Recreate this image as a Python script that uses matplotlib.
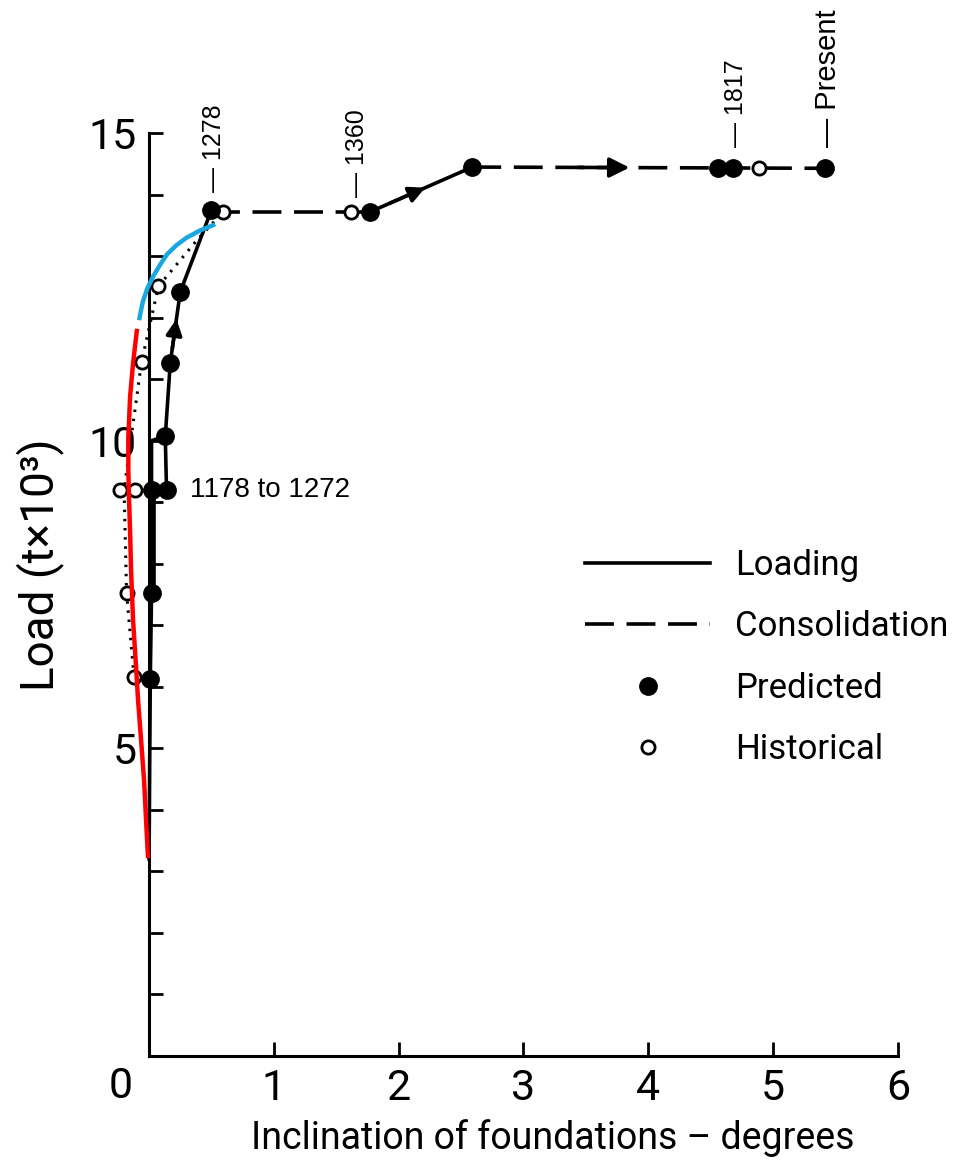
import matplotlib.pyplot as plt
from matplotlib.lines import Line2D

NARROW = ['Roboto', 'DejaVu Sans']
PLAIN = ['Liberation Sans', 'DejaVu Sans']

# predicted points (inclination deg, load 1000 t)
pred_x = [0.01, 0.02, 0.02, 0.14, 0.13, 0.17, 0.25, 0.50, 1.77, 2.59, 4.56, 4.68, 5.42]
pred_y = [6.13, 7.52, 9.2, 9.2, 10.07, 11.26, 12.42, 13.75, 13.72, 14.45, 14.43, 14.43, 14.43]

# historical points
hist_x = [-0.12, -0.18, -0.23, -0.11, -0.06, 0.075, 0.595, 1.62, 4.89]
hist_y = [6.16, 7.52, 9.2, 9.2, 11.28, 12.51, 13.72, 13.72, 14.43]

# loading (solid) paths
load_a_x = [0.0, 0.01, 0.02]
load_a_y = [3.2, 6.13, 7.52]
load_thick_x = [0.02, 0.02]
load_thick_y = [7.52, 9.2]
load_b_x = [0.02, 0.02, 0.13]
load_b_y = [9.2, 10.0, 10.07]
load_c_x = [0.02, 0.14, 0.13, 0.17, 0.25, 0.50]
load_c_y = [9.2, 9.2, 10.07, 11.26, 12.42, 13.75]
load_d_x = [1.77, 2.59]
load_d_y = [13.72, 14.45]

# consolidation (dashed) paths
cons_a_x = [0.50, 1.77]
cons_a_y = [13.72, 13.72]
cons_b_x = [2.59, 5.42]
cons_b_y = [14.45, 14.43]

# historical trend (dotted)
dot_x = [-0.12, -0.18, -0.20, -0.14, -0.06, 0.075, 0.40, 0.595]
dot_y = [6.16, 7.52, 9.2, 10.1, 11.28, 12.51, 13.3, 13.72]

# red and blue overlay curves
red_x = [-0.008, -0.024, -0.040, -0.064, -0.088, -0.104, -0.128, -0.144, -0.152,
         -0.160, -0.166, -0.166, -0.160, -0.152, -0.128, -0.096]
red_y = [3.21, 3.83, 4.48, 5.14, 5.78, 6.32, 7.08, 7.89, 8.54,
         9.03, 9.52, 10.06, 10.33, 10.71, 11.26, 11.82]
blue_x = [-0.080, -0.050, -0.015, 0.03, 0.085, 0.144, 0.22, 0.30, 0.41, 0.53]
blue_y = [11.96, 12.26, 12.47, 12.66, 12.85, 13.03, 13.18, 13.30, 13.42, 13.52]

# year labels
year_labels = ['1278', '1360', '1817', 'Present']
year_x = [0.52, 1.67, 4.70, 5.44]
year_y = [14.05, 13.96, 14.77, 14.77]
year_size = [18, 18, 18, 21]

fig = plt.figure(figsize=(9.59, 11.65), dpi=100)
ax = fig.add_axes([111.6 / 959, (1165 - 1055.5) / 1165, 792.5 / 959, 953 / 1165])
ax.set_xlim(-0.3, 6.05)
ax.set_ylim(0, 15.5)

dash = (0, (8, 3.5))
lw = 2.6
ax.plot(load_a_x, load_a_y, color='k', lw=lw)
ax.plot(load_thick_x, load_thick_y, color='k', lw=5.5, solid_capstyle='butt')
ax.plot(load_b_x, load_b_y, color='k', lw=lw)
ax.plot(load_c_x, load_c_y, color='k', lw=lw)
ax.plot(load_d_x, load_d_y, color='k', lw=lw)
ax.plot(cons_a_x, cons_a_y, color='k', lw=lw, linestyle=dash)
ax.plot(cons_b_x, cons_b_y, color='k', lw=lw, linestyle=dash)
ax.plot(dot_x, dot_y, color='k', lw=2.2, linestyle=(0, (0.8, 2.2)))

# direction arrows
def arrow(x1, y1, x2, y2, f0, f1, size):
    ax.annotate('', xy=(x1 + f1 * (x2 - x1), y1 + f1 * (y2 - y1)),
                xytext=(x1 + f0 * (x2 - x1), y1 + f0 * (y2 - y1)),
                arrowprops=dict(arrowstyle='-|>', color='k', lw=lw,
                                mutation_scale=size, shrinkA=0, shrinkB=0))

arrow(load_c_x[3], load_c_y[3], load_c_x[4], load_c_y[4], 0.2, 0.62, 24)
arrow(load_d_x[0], load_d_y[0], load_d_x[1], load_d_y[1], 0.2, 0.54, 24)
arrow(cons_b_x[0], cons_b_y[0], cons_b_x[1], cons_b_y[1], 0.3, 0.445, 30)

ax.plot(hist_x, hist_y, 'o', ms=9.5, mfc='white', mec='k', mew=2, linestyle='none', zorder=4)
ax.plot(pred_x, pred_y, 'o', ms=12.5, color='k', linestyle='none', zorder=5)

ax.plot(red_x, red_y, color='#ff0000', lw=3.2, zorder=6, solid_capstyle='butt')
ax.plot(blue_x, blue_y, color='#1aa6e0', lw=3.2, zorder=6, solid_capstyle='butt')

for lab, x, y, fs in zip(year_labels, year_x, year_y, year_size):
    ax.text(x, y, '— ' + lab, rotation=90, ha='center', va='bottom',
            fontsize=fs, family=PLAIN)
ax.text(0.33, 9.2, '1178 to 1272', ha='left', va='center', fontsize=20, family=PLAIN)

# axes styling
for s in ['top', 'right']:
    ax.spines[s].set_visible(False)
ax.spines['left'].set_position(('data', 0))
ax.spines['left'].set_bounds(0, 15)
ax.spines['bottom'].set_bounds(0, 6)
ax.spines['left'].set_linewidth(2.2)
ax.spines['bottom'].set_linewidth(2.2)
ax.set_xticks([1, 2, 3, 4, 5, 6])
ax.set_yticks([5, 10, 15])
ax.set_yticks(range(1, 16), minor=True)
ax.tick_params(direction='in', length=10, width=2, labelsize=31)
ax.tick_params(axis='x', pad=9)
ax.tick_params(axis='y', pad=9)
ax.tick_params(which='minor', direction='in', length=10, width=2)
for t in ax.get_xticklabels() + ax.get_yticklabels():
    t.set_family(NARROW)
ax.text(-0.23, -0.5, '0', ha='center', va='center', fontsize=31, family=NARROW)

fig.text(553 / 959, 1 - 1138 / 1165, 'Inclination of foundations – degrees',
         ha='center', va='center', fontsize=27, family=NARROW)
fig.text(40 / 959, 1 - 565 / 1165, 'Load (t×10³)', rotation=90,
         ha='center', va='center', fontsize=33, family=NARROW)

handles = [Line2D([], [], color='k', lw=lw),
           Line2D([], [], color='k', lw=lw, linestyle=dash),
           Line2D([], [], marker='o', ms=12.5, color='k', linestyle='none'),
           Line2D([], [], marker='o', ms=9.5, mfc='white', mec='k', mew=2, linestyle='none')]
ax.legend(handles, ['Loading', 'Consolidation', 'Predicted', 'Historical'],
          loc='upper left', bbox_to_anchor=(585 / 959, 1 - 549 / 1165),
          bbox_transform=fig.transFigure, frameon=False, borderpad=0,
          borderaxespad=0, handlelength=3.6, handletextpad=0.72, labelspacing=0.82,
          prop={'family': NARROW, 'size': 25})

fig.savefig('out.png', dpi=100)
